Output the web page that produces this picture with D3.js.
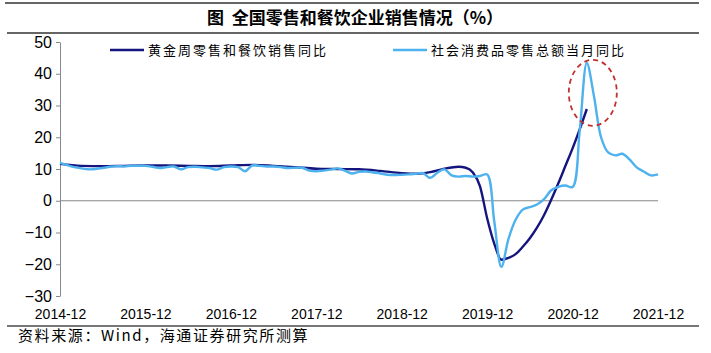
<!DOCTYPE html>
<html>
<head>
<meta charset="utf-8">
<script src="https://cdn.jsdelivr.net/npm/d3@7"></script>
<style>
  body { margin: 0; background: #fff; }
  svg { display: block; }
  .axis text { font-family: "Liberation Sans", Arial, sans-serif; fill: #000; }
  .cn { font-family: "Noto Sans CJK SC", sans-serif; fill: #000; }
</style>
</head>
<body>
<svg id="chart" width="711" height="353"></svg>
<script>
// month index: 0 = 2014-12 ... 84 = 2021-12
const xLabels = ["2014-12","2015-12","2016-12","2017-12","2018-12","2019-12","2020-12","2021-12"]
const yTicks = [-30,-20,-10,0,10,20,30,40,50]

// 社会消费品零售总额当月同比 (monthly)
const retailMonths = d3.range(0, 85)
const retailValues = [11.9,11.2,10.6,10.2,9.9,10.0,10.3,10.7,10.9,10.8,
                      11.0,11.0,11.0,10.7,10.3,10.6,10.8,9.9,10.6,10.7,
                      10.5,10.3,9.8,10.6,10.8,10.6,9.3,11.1,11.0,10.8,
                      10.8,10.6,10.3,10.4,10.4,9.5,9.3,9.5,9.8,10.2,
                      9.5,8.6,9.1,9.2,8.9,8.6,8.2,8.1,8.2,8.3,
                      8.5,8.7,7.2,8.8,9.9,8.0,7.6,7.8,7.6,7.8,
                      8.3,-6.5,-20.8,-12.0,-6.0,-2.8,-2.0,-1.2,0.5,3.3,
                      4.4,4.8,4.3,22.0,43.4,33.0,20.0,15.2,14.3,14.8,
                      13.0,10.5,9.2,8.0,8.3]

// 黄金周零售和餐饮销售同比
const goldenMonths = [0,3,6,9,12,15,18,21,24,27,30,33,36,39,42,45,48,50,52,54,56,57,58,59,60,61,62,63,64,65,66,67,68,69,70,71,72,73,74]
const goldenValues = [11.6,11.0,10.9,11.0,11.1,11.1,11.0,10.9,11.1,11.3,11.0,10.6,10.1,10.0,9.9,9.4,8.7,8.5,9.0,10.1,10.7,10.4,8.9,4.5,-5.5,-13.5,-18.6,-18.0,-16.8,-14.5,-11.8,-8.5,-4.5,0.3,5.5,11.0,16.5,22.5,28.9]

const svg = d3.select("#chart")

const x = d3.scaleLinear().domain([0, 84]).range([60, 658])
const y = d3.scaleLinear().domain([-30, 50]).range([296, 42])

// header / footer rules
svg.append("line").attr("x1",5).attr("x2",699).attr("y1",3).attr("y2",3)
   .attr("stroke","#666").attr("stroke-width",2)
svg.append("line").attr("x1",7).attr("x2",699).attr("y1",33).attr("y2",33)
   .attr("stroke","#666").attr("stroke-width",2)
svg.append("line").attr("x1",7).attr("x2",699).attr("y1",326).attr("y2",326)
   .attr("stroke","#777").attr("stroke-width",2)

svg.append("text").attr("class","cn")
   .attr("x",355).attr("y",24)
   .attr("text-anchor","middle")
   .attr("font-size",17).attr("font-weight","bold")
   .text("图  全国零售和餐饮企业销售情况（%）")
   .attr("xml:space","preserve")

// y axis
const yAxis = d3.axisLeft(y).tickValues(yTicks).tickSize(4).tickSizeOuter(0).tickPadding(4)
const gy = svg.append("g").attr("class","axis")
   .attr("transform","translate(60,0)")
   .call(yAxis)
gy.selectAll("line").attr("stroke","#888")
gy.select(".domain").attr("stroke","#888")
gy.selectAll("text").attr("font-size",16)

// zero line
svg.append("line")
   .attr("x1",x(0)).attr("x2",x(84))
   .attr("y1",y(0)).attr("y2",y(0))
   .attr("stroke","#888").attr("stroke-width",1.2)

// x axis labels
const xAxis = d3.axisBottom(x).tickValues(d3.range(0, 85, 12))
   .tickFormat((d,i)=>xLabels[i]).tickSize(0).tickPadding(3)
const gx = svg.append("g").attr("class","axis")
   .attr("transform","translate(0,306)")
   .call(xAxis)
gx.select(".domain").remove()
gx.selectAll("text").attr("font-size",14)

// lines
const goldenLine = d3.line()
   .x((d,i)=>x(goldenMonths[i]))
   .y(d=>y(d))
   .curve(d3.curveMonotoneX)
const retailLine = d3.line()
   .x((d,i)=>x(retailMonths[i]))
   .y(d=>y(d))
   .curve(d3.curveCatmullRom.alpha(0.5))

svg.append("path").datum(goldenValues)
   .attr("d",goldenLine)
   .attr("fill","none").attr("stroke","#15157f").attr("stroke-width",2.4)
svg.append("path").datum(retailValues)
   .attr("d",retailLine)
   .attr("fill","none").attr("stroke","#4db2ee").attr("stroke-width",2.4)

// highlight ellipse around the peak
const peakIdx = retailValues.indexOf(d3.max(retailValues))
svg.append("ellipse")
   .attr("cx",x(retailMonths[peakIdx])+6).attr("cy",y(34))
   .attr("rx",24).attr("ry",33)
   .attr("fill","none").attr("stroke","#c0312f").attr("stroke-width",1.8)
   .attr("stroke-dasharray","5,4")

// legend
const legendItems = [
  {name:"黄金周零售和餐饮销售同比", color:"#15157f", x0:110},
  {name:"社会消费品零售总额当月同比", color:"#4db2ee", x0:393}
]
const lg = svg.append("g").selectAll("g").data(legendItems).join("g")
   .attr("transform",d=>`translate(${d.x0},50)`)
lg.append("line").attr("x1",0).attr("x2",34).attr("y1",0).attr("y2",0)
   .attr("stroke",d=>d.color).attr("stroke-width",2.4)
lg.append("text").attr("class","cn")
   .attr("x",38).attr("y",5)
   .attr("font-size",13).attr("letter-spacing",2)
   .text(d=>d.name)

// source
svg.append("text").attr("class","cn")
   .attr("x",18).attr("y",341)
   .attr("font-size",15).attr("letter-spacing",1.6)
   .text("资料来源：Wind，海通证券研究所测算")
</script>
</body>
</html>
